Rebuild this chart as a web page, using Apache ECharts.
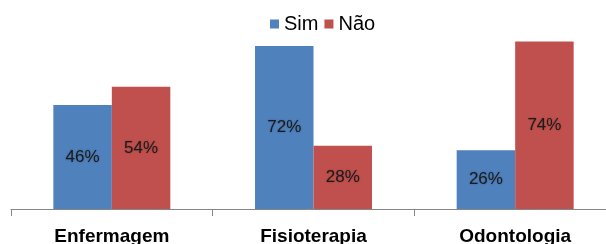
<!DOCTYPE html>
<html>
<head>
<meta charset="utf-8"/>
<title>Sim / Não</title>
<script type="text/javascript" src="https://cdn.jsdelivr.net/npm/echarts@6/dist/echarts.min.js"></script>
<style type="text/css">
	html, body { margin: 0; padding: 0; background: #fff; }
	#chart { width: 606px; height: 244px; }
</style>
</head>
<body>
<div id="chart"></div>
<script type="text/javascript">
	var categories = ['Enfermagem', 'Fisioterapia', 'Odontologia'];
	var simValues = [46, 72, 26];
	var naoValues = [54, 28, 74];
	var seriesNames = ['Sim', 'Não'];

	var labelStyle = {
		show: true,
		position: 'inside',
		formatter: '{c}%',
		fontFamily: 'Liberation Sans',
		fontSize: 17,
		color: '#1b1b1b',
		textShadowColor: 'rgba(0,0,0,0.3)',
		textShadowBlur: 2
	};

	var option = {
		animation: false,
		backgroundColor: '#fff',
		legend: {
			left: 265,
			top: 9,
			itemWidth: 9,
			itemHeight: 9,
			itemGap: 6,
			icon: 'rect',
			textStyle: {
				fontFamily: 'Liberation Sans',
				fontSize: 20,
				color: '#000',
				padding: [0, 0, 0, 0]
			},
			data: seriesNames
		},
		grid: {
			left: 11,
			top: 28,
			width: 605,
			bottom: 35,
			containLabel: false,
			outerBoundsMode: 'none'
		},
		xAxis: {
			type: 'category',
			data: categories,
			axisLine: { lineStyle: { color: '#868686', width: 1 } },
			axisTick: { show: true, length: 7, lineStyle: { color: '#868686' } },
			axisLabel: {
				margin: 18,
				fontFamily: 'Liberation Sans',
				fontWeight: 'bold',
				fontSize: 19,
				color: '#000'
			}
		},
		yAxis: {
			type: 'value',
			min: 0,
			max: 80,
			show: false,
			splitLine: { show: false }
		},
		series: [{
			name: seriesNames[0],
			type: 'bar',
			barGap: '0%',
			barCategoryGap: '42%',
			itemStyle: { color: '#4F81BD' },
			label: labelStyle,
			data: simValues
		}, {
			name: seriesNames[1],
			type: 'bar',
			barGap: '0%',
			barCategoryGap: '42%',
			itemStyle: { color: '#C0504D' },
			label: labelStyle,
			data: naoValues
		}]
	};

	var chart = echarts.init(document.getElementById('chart'));
	chart.setOption(option);
</script>
</body>
</html>
